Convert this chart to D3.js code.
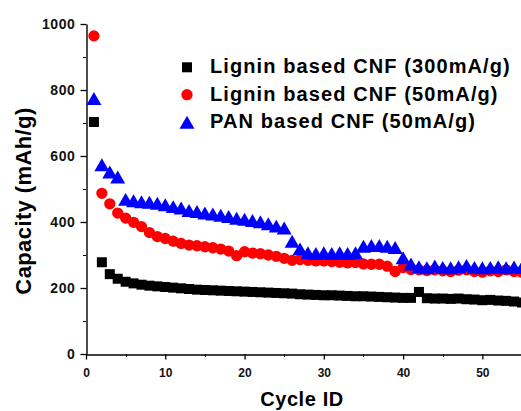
<!DOCTYPE html>
<html>
<head>
<meta charset="utf-8">
<script src="https://cdn.jsdelivr.net/npm/d3@7"></script>
<style>
  html, body { margin: 0; padding: 0; background: #fff; }
  svg { display: block; font-family: "Liberation Sans", Arial, sans-serif; }
</style>
</head>
<body>
<svg id="chart" width="521" height="411"></svg>
<script>
// Cycle numbers 1..55
const cycles = [1,2,3,4,5,6,7,8,9,10,11,12,13,14,15,16,17,18,19,20,21,22,23,24,25,26,27,28,29,30,31,32,33,34,35,36,37,38,39,40,41,42,43,44,45,46,47,48,49,50,51,52,53,54,55];

// Lignin based CNF, 300 mA/g
const lignin300 = [703,278,242,228,219,214,210,207,205,203,201,199,197,195,194,193,192,191,190,189,188,187,186,185,184,183,181,180,179,178,178,177,176,175,175,174,173,172,171,170,170,188,169,168,168,167,168,166,165,163,164,162,161,159,156];

// Lignin based CNF, 50 mA/g
const lignin50 = [964,487,455,427,412,399,386,368,356,350,342,335,330,328,325,322,318,312,298,310,306,304,300,296,290,284,286,284,282,282,280,278,276,277,273,272,272,266,250,262,256,255,253,255,252,250,254,255,250,248,252,250,255,250,248];

// PAN based CNF, 50 mA/g
const pan50 = [768,567,545,530,462,458,455,453,450,446,440,436,428,425,421,418,414,410,405,402,398,394,388,381,375,335,312,300,298,300,298,300,298,300,320,322,322,320,316,285,266,258,255,260,256,255,258,262,256,255,256,258,255,257,256];

const seriesNames = ["Lignin based CNF (300mA/g)", "Lignin based CNF (50mA/g)", "PAN based CNF (50mA/g)"];
const seriesColors = ["#000000", "#ff0000", "#0000ff"];

const xTicks = [0,10,20,30,40,50];
const xMinor = [5,15,25,35,45,55];
const yTicks = [0,200,400,600,800,1000];
const yMinor = [100,300,500,700,900];

const svg = d3.select("#chart");
const x = d3.scaleLinear().domain([0, 55]).range([86, 522]);
const y = d3.scaleLinear().domain([0, 1000]).range([354, 24]);

// Minor ticks
const minorG = svg.append("g").attr("stroke", "#000").attr("stroke-width", 1);
minorG.selectAll("line.xm").data(xMinor).join("line")
  .attr("x1", d => Math.round(x(d)) + 0.5).attr("x2", d => Math.round(x(d)) + 0.5)
  .attr("y1", 354).attr("y2", 357);
minorG.selectAll("line.ym").data(yMinor).join("line")
  .attr("y1", d => Math.round(y(d)) + 0.5).attr("y2", d => Math.round(y(d)) + 0.5)
  .attr("x1", 83).attr("x2", 86);

// Axes
const fmt = d3.format("d");
const xAxis = svg.append("g").attr("transform", "translate(0,354.5)")
  .call(d3.axisBottom(x).tickValues(xTicks).tickFormat(fmt).tickSize(5).tickSizeOuter(0).tickPadding(9));
xAxis.select(".domain").attr("stroke-width", 1.4);
xAxis.selectAll(".tick line").attr("stroke-width", 1.3);
xAxis.selectAll(".tick text")
  .attr("font-size", 12).attr("font-weight", "bold").attr("fill", "#111")
  .attr("font-family", "Liberation Sans, Arial, sans-serif");

const yAxis = svg.append("g").attr("transform", "translate(86.5,0)")
  .call(d3.axisLeft(y).tickValues(yTicks).tickFormat(fmt).tickSize(6).tickSizeOuter(0).tickPadding(5));
yAxis.select(".domain").attr("stroke-width", 1.4);
yAxis.selectAll(".tick line").attr("stroke-width", 1.3);
yAxis.selectAll(".tick text")
  .attr("font-size", 14).attr("font-weight", "bold").attr("fill", "#111")
  .attr("letter-spacing", 0.6)
  .attr("font-family", "Liberation Sans, Arial, sans-serif");

// Axis titles
svg.append("text")
  .attr("transform", "translate(31,201) rotate(-90)")
  .attr("text-anchor", "middle")
  .attr("font-size", 22).attr("font-weight", "bold").attr("letter-spacing", 0.4)
  .text("Capacity (mAh/g)");
svg.append("text")
  .attr("x", 302).attr("y", 406)
  .attr("text-anchor", "middle")
  .attr("font-size", 20).attr("font-weight", "bold").attr("letter-spacing", 0.6)
  .text("Cycle ID");

// Data markers
const symbols = [d3.symbolSquare, d3.symbolCircle, d3.symbolTriangle];
const sizes = [100, 100, 97];
const allSeries = [lignin300, lignin50, pan50];
const plot = svg.append("g");
allSeries.forEach((vals, i) => {
  const sym = d3.symbol().type(symbols[i]).size(sizes[i]);
  plot.append("g").selectAll("path").data(vals).join("path")
    .attr("d", sym)
    .attr("fill", seriesColors[i])
    .attr("transform", (v, j) => `translate(${x(cycles[j])},${y(v)})`);
});

// Legend
const legendY = [67.3, 94.7, 124.5];
const legendBase = [72.7, 101, 128.3];
const legend = svg.append("g");
seriesNames.forEach((name, i) => {
  legend.append("path")
    .attr("d", d3.symbol().type(symbols[i]).size(sizes[i]))
    .attr("fill", seriesColors[i])
    .attr("transform", `translate(187,${legendY[i]})`);
  legend.append("text")
    .attr("x", 210).attr("y", legendBase[i])
    .attr("font-size", 20).attr("font-weight", "bold").attr("letter-spacing", 1.1)
    .attr("fill", "#000")
    .text(name);
});
</script>
</body>
</html>
